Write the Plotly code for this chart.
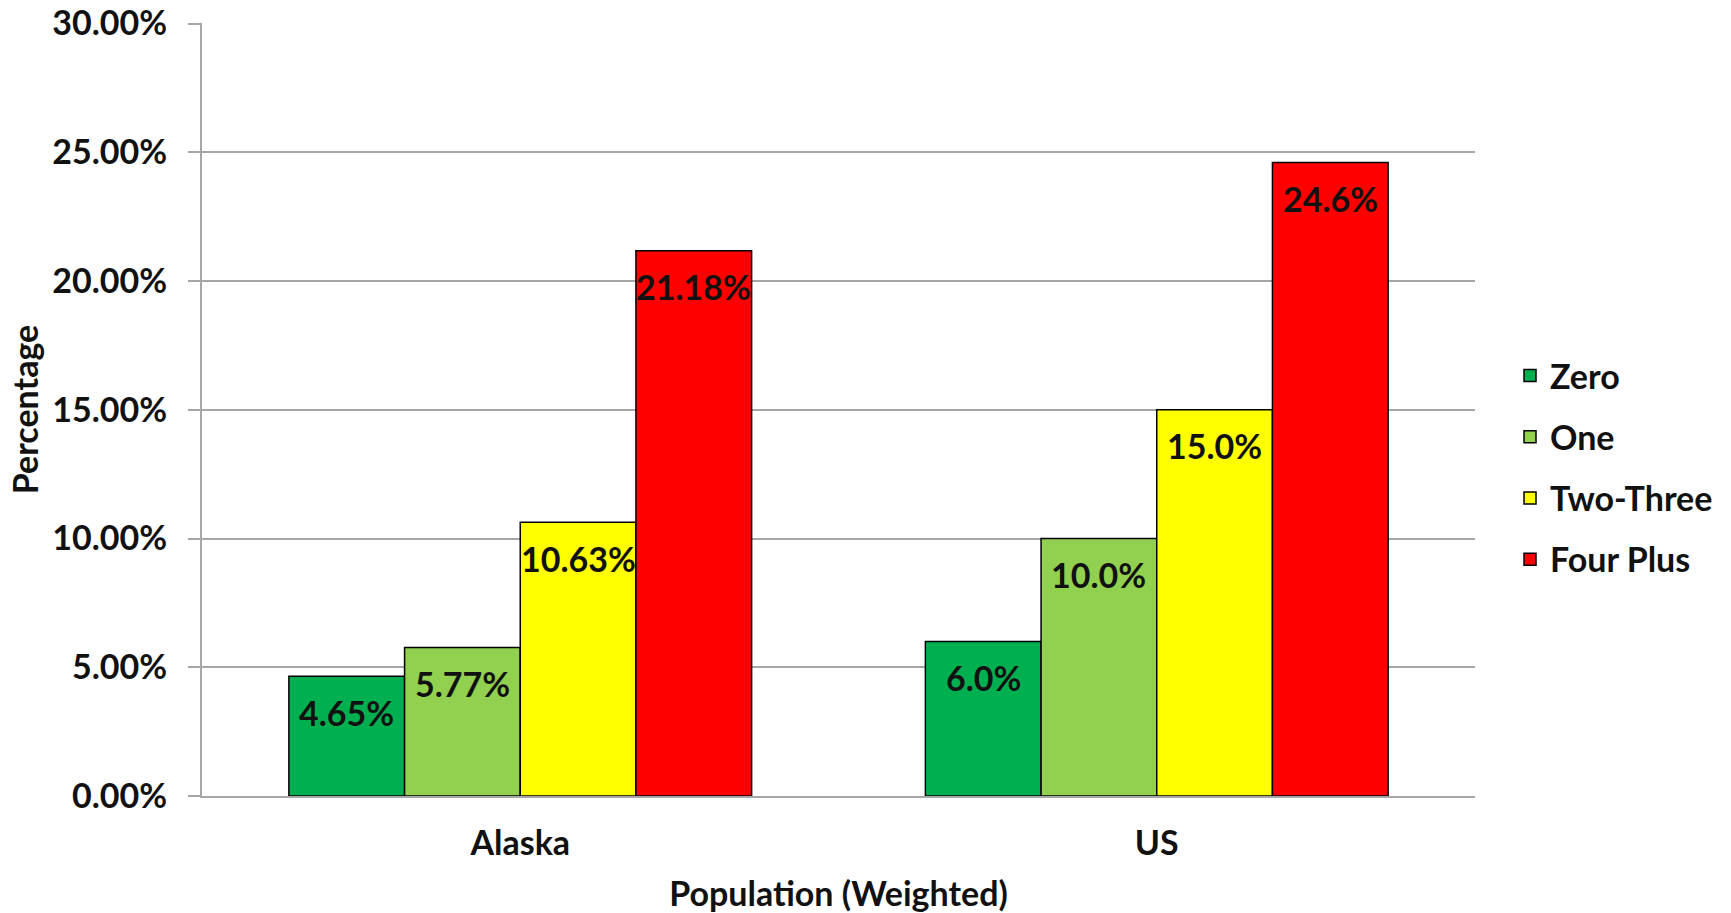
import plotly.graph_objects as go

categories = ["Alaska", "US"]
series_names = ["Zero", "One", "Two-Three", "Four Plus"]
zero_vals = [0.0465, 0.060]
one_vals = [0.0577, 0.100]
two_three_vals = [0.1063, 0.150]
four_plus_vals = [0.2118, 0.246]
zero_labels = ["4.65%", "6.0%"]
one_labels = ["5.77%", "10.0%"]
two_three_labels = ["10.63%", "15.0%"]
four_plus_labels = ["21.18%", "24.6%"]
colors = ["#00B050", "#92D050", "#FFFF00", "#FF0000"]
y_tick_vals = [0.0, 0.05, 0.10, 0.15, 0.20, 0.25, 0.30]
y_tick_text = ["0.00%", "5.00%", "10.00%", "15.00%", "20.00%", "25.00%", "30.00%"]

series_vals = [zero_vals, one_vals, two_three_vals, four_plus_vals]
series_labels = [zero_labels, one_labels, two_three_labels, four_plus_labels]

FONT = "Lato"
FS = 34
BARGAP = 0.273

fig = go.Figure()
for j, (name, vals, col) in enumerate(zip(series_names, series_vals, colors)):
    fig.add_trace(go.Bar(
        x=categories, y=vals, name=name, legendgroup=name,
        marker=dict(color=col, line=dict(color="#000000", width=1.5)),
    ))

n = len(series_names)
w = (1 - BARGAP) / n
annotations = []
for j in range(n):
    for i in range(len(categories)):
        annotations.append(dict(
            x=i + (j - (n - 1) / 2) * w, y=series_vals[j][i], xref="x", yref="y",
            text=series_labels[j][i], showarrow=False, yanchor="middle", yshift=-36,
            font=dict(family=FONT, size=FS, color="#111111", weight="bold"),
        ))

fig.update_layout(
    width=1731, height=913,
    margin=dict(l=202, r=256, t=23, b=117, autoexpand=False),
    paper_bgcolor="white", plot_bgcolor="white",
    font=dict(family=FONT, size=FS, color="#111111", weight="bold"),
    barmode="group", bargap=BARGAP, bargroupgap=0,
    showlegend=True,
    legend=dict(x=1.0275, y=0.425, xanchor="left", yanchor="middle",
                tracegroupgap=14, traceorder="grouped",
                font=dict(family=FONT, size=FS, color="#111111", weight="bold")),
    annotations=annotations,
)
fig.update_yaxes(
    automargin=False,
    range=[0, 0.3002], tickmode="array", tickvals=y_tick_vals, ticktext=y_tick_text,
    showgrid=True, gridcolor="#a6a6a6", gridwidth=2,
    showline=True, linecolor="#a6a6a6", linewidth=2,
    ticks="outside", ticklen=12, tickcolor="#a6a6a6", tickwidth=2,
    ticklabelstandoff=14,
    zeroline=False,
    title=dict(text="Percentage", standoff=3, font=dict(family=FONT, size=FS, weight="bold")),
)
fig.update_xaxes(
    automargin=False,
    showline=True, linecolor="#a6a6a6", linewidth=2,
    ticks="", ticklabelstandoff=16,
    title=dict(text="Population (Weighted)", standoff=22, font=dict(family=FONT, size=FS, weight="bold")),
)

fig.write_html("out.html", config={"displayModeBar": False},
               post_script="document.body.style.margin='0px';")
